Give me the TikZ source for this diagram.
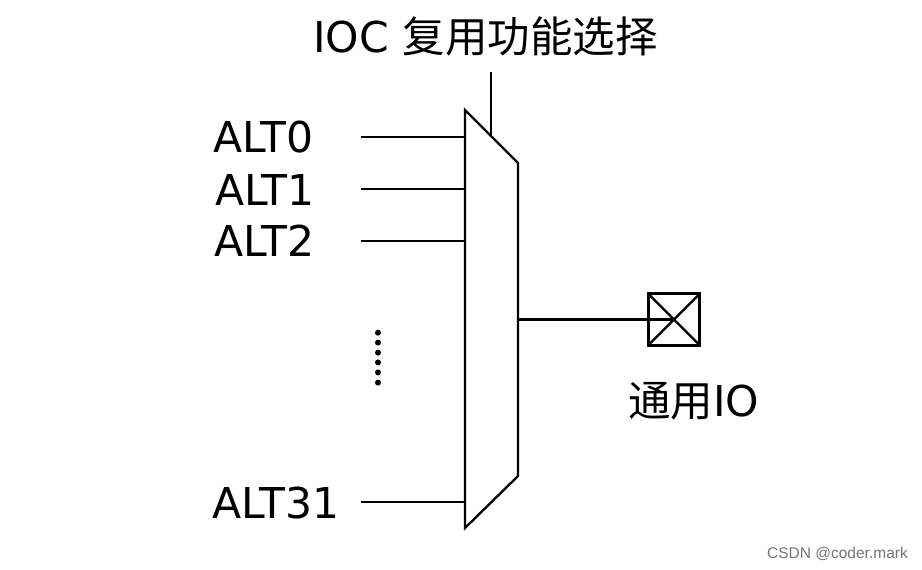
\documentclass[tikz,border=0pt]{standalone}
\usepackage{fontspec}
\setmainfont{DejaVu Sans}
\newfontfamily\cjk{Noto Sans CJK SC}
\newfontfamily\wm{Liberation Sans}
\begin{document}
\begin{tikzpicture}[x=1pt,y=-1pt,
  wire/.style={line width=2.3pt,black},
  lab/.style={inner sep=0pt,font=\fontsize{42.5}{42.5}\selectfont,anchor=center},
  dotm/.style={circle,fill=black,inner sep=0pt,minimum size=6pt}]
\useasboundingbox (0,0) rectangle (922,570);
\node[coordinate] (m1) at (465,110) {};
\node[coordinate] (m2) at (518,163) {};
\node[coordinate] (m3) at (518,476) {};
\node[coordinate] (m4) at (465,528) {};
\draw[wire,line join=miter] (m1)--(m2)--(m3)--(m4)--cycle;
\node[lab] (title) at (485.5,36) {IOC {\cjk 复用功能选择}};
\node[coordinate] (t0) at (491,72) {};
\node[coordinate] (t1) at (491,136) {};
\draw[wire] (t0)--(t1);
\node[lab] (a0) at (263.5,137) {ALT0};
\node[lab] (a1) at (265,190) {ALT1};
\node[lab] (a2) at (264.5,241) {ALT2};
\node[lab] (a31) at (276,503) {ALT31};
\foreach \n/\y in {0/137,1/189,2/241,31/502}{
 \node[coordinate] (s\n) at (361,\y) {};
 \node[coordinate] (e\n) at (465,\y) {};
 \draw[wire] (s\n)--(e\n);
}
\foreach \y in {332.7,342.6,352.6,362.4,372.4,382.6}{\node[dotm] at (378,\y) {};}
\node[draw,line width=2.8pt,minimum size=51.5pt,inner sep=0pt] (io) at (674,319.5) {};
\draw[line width=2.3pt,shorten >=1.5pt,shorten <=1.5pt] (io.north west)--(io.south east);
\draw[line width=2.3pt,shorten >=1.5pt,shorten <=1.5pt] (io.north east)--(io.south west);
\node[coordinate] (o) at (518,319.5) {};
\draw[wire] (o)--(io.center);
\node[lab] (iol) at (693.5,401) {{\cjk 通用}IO};
\node[inner sep=0pt,text=black!55,font=\wm\fontsize{15.5}{15.5}\selectfont] (wm) at (837.5,554) {CSDN @coder.mark};
\end{tikzpicture}
\end{document}
